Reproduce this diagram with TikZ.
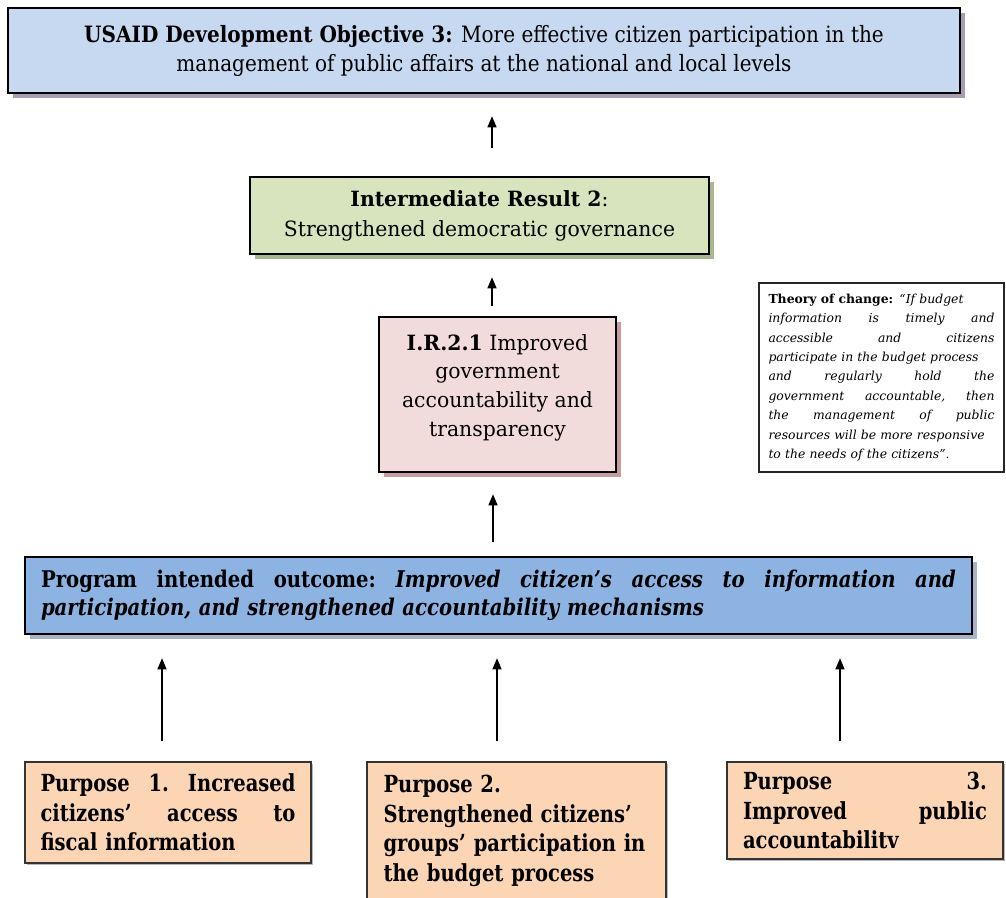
\documentclass[tikz,border=0pt]{standalone}
\usepackage{fontspec}
\setmainfont{DejaVu Serif}
\newfontfamily\cond{DejaVu Serif}[FakeStretch=0.89]
\newfontfamily\progcond{DejaVu Serif}[FakeStretch=0.855]
\newfontfamily\purpcond{DejaVu Serif}[FakeStretch=0.83]
\newfontfamily\semicond{DejaVu Serif}[FakeStretch=0.97]
\usetikzlibrary{shadows,arrows.meta}
\definecolor{topblue}{HTML}{C6D9F1}
\definecolor{topshadow}{HTML}{A79DB2}
\definecolor{irgreen}{HTML}{D7E4BD}
\definecolor{greenshadow}{HTML}{A9B692}
\definecolor{irpink}{HTML}{F2DCDB}
\definecolor{pinkshadow}{HTML}{C79C9C}
\definecolor{progblue}{HTML}{8DB3E2}
\definecolor{progshadow}{HTML}{A8B4C6}
\definecolor{purpfill}{HTML}{FCD5B5}
\definecolor{purpshadow}{HTML}{B8B8B8}
\begin{document}
\begin{tikzpicture}[x=1pt,y=-1pt,
  box/.style={draw=black, line width=2.5pt, inner sep=0pt, align=center},
  purpbox/.style={draw=black!80, line width=1.4pt, fill=purpfill, inner sep=0pt, align=left,
     font={\purpcond\fontsize{23.5}{29.5}\selectfont\bfseries},
     drop shadow={shadow xshift=2pt, shadow yshift=-2pt, fill=purpshadow, opacity=1}},
  arr/.style={line width=1.2pt, -{Triangle[width=9pt,length=11pt]}}]
\useasboundingbox (0,0) rectangle (1006,897);

% top box
\node[box, fill=topblue, minimum width=952pt, minimum height=85pt,
  font={\cond\fontsize{22.5}{29}\selectfont},
  drop shadow={shadow xshift=5pt, shadow yshift=-5pt, fill=topshadow, opacity=1}]
  (top) at (484,50.5)
  {\textbf{USAID Development Objective 3:} More effective citizen participation in the\\
   management of public affairs at the national and local levels};

% IR2
\node[box, fill=irgreen, minimum width=459pt, minimum height=77pt,
  font={\semicond\fontsize{21}{30}\selectfont},
  drop shadow={shadow xshift=5pt, shadow yshift=-5pt, fill=greenshadow, opacity=1}]
  (ir2) at (479.5,215.5)
  {\textbf{Intermediate Result 2}:\\ Strengthened democratic governance};

% IR2.1
\node[box, fill=irpink, minimum width=237pt, minimum height=155pt,
  font={\semicond\fontsize{21}{28.7}\selectfont},
  drop shadow={shadow xshift=5pt, shadow yshift=-5pt, fill=pinkshadow, opacity=1}]
  (ir21) at (497.5,394.5)
  {\textbf{I.R.2.1} Improved\\ government\\ accountability and\\ transparency\\[-10pt]\mbox{}};

% theory
\node[draw=black!85, line width=1.4pt, fill=white, minimum width=245pt, minimum height=189pt,
  inner sep=0pt, text width=226pt, align=left,
  font={\fontsize{12.4}{19.4}\selectfont}]
  (theory) at (881.5,377.5)
  {\textbf{Theory of change:} \textit{“If budget}\\
   \textit{information\hfill is\hfill timely\hfill and}\\
   \textit{accessible\hfill and\hfill citizens}\\
   \textit{participate in the budget process}\\
   \textit{and\hfill regularly\hfill hold\hfill the}\\
   \textit{government\hfill accountable,\hfill then}\\
   \textit{the\hfill management\hfill of\hfill public}\\
   \textit{resources will be more responsive}\\
   \textit{to the needs of the citizens”.}};

% program
\node[box, fill=progblue, minimum width=947pt, minimum height=77pt, text width=915pt, align=left,
  font={\progcond\fontsize{23}{28}\selectfont\bfseries},
  drop shadow={shadow xshift=5pt, shadow yshift=-5pt, fill=progshadow, opacity=1}]
  (prog) at (498.5,595.5)
  {Program\hfill intended\hfill outcome:\hfill \textit{Improved\hfill citizen’s\hfill access\hfill to\hfill information\hfill and}\\
   \textit{participation, and strengthened accountability mechanisms}};

% purposes
\node[purpbox, minimum width=286pt, minimum height=101pt, text width=255pt]
  (p1) at (168,812.5)
  {Purpose\hfill 1.\hfill Increased\\ citizens’\hfill access\hfill to\\ fiscal information};
\node[purpbox, minimum width=299pt, minimum height=140pt, text width=266pt]
  (p2) at (516.5,832)
  {Purpose 2.\\ Strengthened citizens’\\ groups’ participation in\\ the budget process\\[-22pt]\mbox{}};
\node[purpbox, minimum width=276pt, minimum height=97pt, text width=244pt]
  (p3) at (865,810.5)
  {Purpose\hfill 3.\\ Improved\hfill public\\ accountabilitv};

% arrows
\coordinate (a1) at (492,0);
\coordinate (a3) at (493,0);
\coordinate (b1) at (162,0);
\coordinate (b2) at (497,0);
\coordinate (b3) at (840,0);
\draw[arr, shorten <=28pt, shorten >=22pt] (ir2.north -| a1) -- (top.south -| a1);
\draw[arr, shorten <=10pt, shorten >=22pt] (ir21.north -| a1) -- (ir2.south -| a1);
\draw[arr, shorten <=14pt, shorten >=21pt] (prog.north -| a3) -- (ir21.south -| a3);
\draw[arr, shorten <=20pt, shorten >=23pt] (p1.north -| b1) -- (prog.south -| b1);
\draw[arr, shorten <=20pt, shorten >=23pt] (p2.north -| b2) -- (prog.south -| b2);
\draw[arr, shorten <=20pt, shorten >=23pt] (p3.north -| b3) -- (prog.south -| b3);
\end{tikzpicture}
\end{document}
